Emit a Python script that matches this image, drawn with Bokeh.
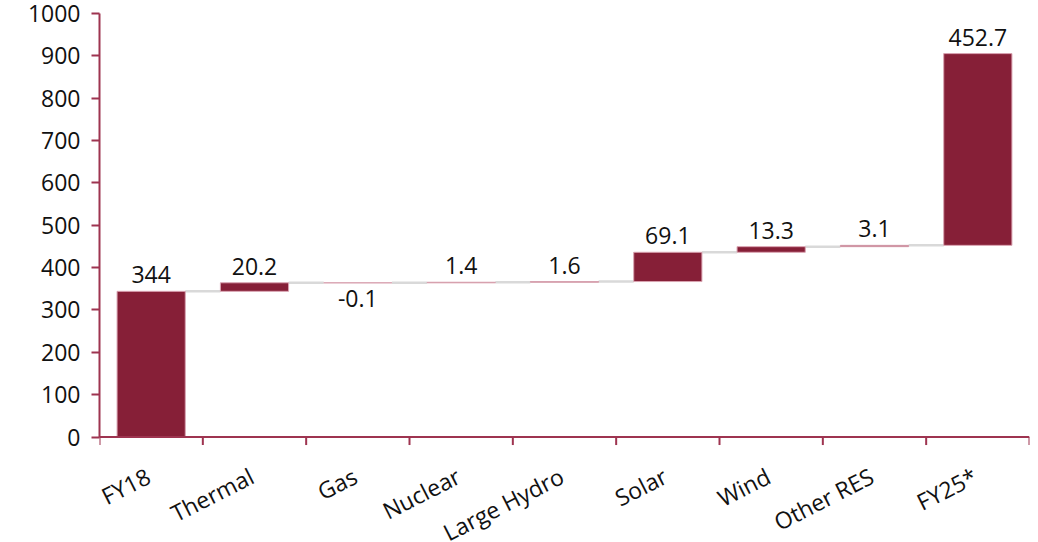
import math
from bokeh.plotting import figure
from bokeh.models import ColumnDataSource, FixedTicker, LabelSet, Range1d
from bokeh.core.properties import value
from bokeh.embed import file_html
from bokeh.resources import INLINE

# Capacity changes FY18 -> FY25* (waterfall)
categories = ["FY18", "Thermal", "Gas", "Nuclear", "Large Hydro",
              "Solar", "Wind", "Other RES", "FY25*"]
changes = [344, 20.2, -0.1, 1.4, 1.6, 69.1, 13.3, 3.1, 452.7]
y_ticks = [0, 100, 200, 300, 400, 500, 600, 700, 800, 900, 1000]

BAR = "#861F37"
AXIS = "#9E3450"
TEXT = "#111111"
FONT = "Open Sans"
FS = "23px"

# every step (including the closing total) sits on the running total
xs, bottoms, tops = [], [], []
running = 0.0
for i, v in enumerate(changes):
    xs.append(i)
    bottoms.append(running)
    running = running + v
    tops.append(running)

bar_w = 0.66
src = ColumnDataSource(dict(x=xs, bottom=bottoms, top=tops))

pos = [i for i, v in enumerate(changes) if v >= 0]
neg = [i for i, v in enumerate(changes) if v < 0]
src_pos = ColumnDataSource(dict(x=[xs[i] for i in pos],
                                y=[tops[i] for i in pos],
                                label=[f"{changes[i]:g}" for i in pos]))
src_neg = ColumnDataSource(dict(x=[xs[i] for i in neg],
                                y=[min(bottoms[i], tops[i]) for i in neg],
                                label=[f"{changes[i]:g}" for i in neg]))
src_cat = ColumnDataSource(dict(x=xs, y=[0] * len(xs), label=categories))

# category boundaries on the horizontal axis
edges = [x - 0.5 for x in xs] + [xs[-1] + 0.5]

# connectors between neighbouring bars at the running-total level
conn = ColumnDataSource(dict(
    x0=[xs[i] + bar_w / 2 for i in range(len(xs) - 1)],
    x1=[xs[i + 1] - bar_w / 2 for i in range(len(xs) - 1)],
    y=[tops[i] for i in range(len(xs) - 1)],
))

# the frame runs down to the bottom of the canvas so the slanted
# category names below the zero line stay inside it
p = figure(width=1038, height=542, output_backend="svg", toolbar_location=None,
           x_axis_location=None,
           x_range=Range1d(edges[0], edges[-1]),
           y_range=Range1d(-249, 1000),
           min_border_left=99, min_border_right=9,
           min_border_top=13, min_border_bottom=0)
p.outline_line_color = None
p.xgrid.visible = False
p.ygrid.visible = False
p.background_fill_color = "white"
p.border_fill_color = "white"

p.segment(x0="x0", y0="y", x1="x1", y1="y", source=conn,
          line_color="#D9D9D9", line_width=2.5)
p.vbar(x="x", bottom="bottom", top="top", width=bar_w, source=src,
       fill_color=BAR, line_color="#D9A3B1", line_width=1)

# horizontal axis: line at zero with boundary ticks hanging below it
p.segment(x0=[edges[0]], y0=[0], x1=[edges[-1]], y1=[0],
          line_color=AXIS, line_width=2)
p.ray(x=edges, y=[0] * len(edges), length=8, length_units="screen",
      angle=-math.pi / 2, line_color=AXIS, line_width=2)

p.text(x="x", y="y", text="label", source=src_cat,
       x_offset=-10, y_offset=23, angle=0.47,
       text_align="right", text_baseline="top",
       text_font=value(FONT), text_font_size=FS, text_color=TEXT)

lab_kw = dict(text_font=value(FONT), text_font_size=FS, text_color=TEXT)
p.add_layout(LabelSet(x="x", y="y", text="label", source=src_pos,
                      y_offset=8, text_align="center", text_baseline="bottom",
                      **lab_kw))
p.add_layout(LabelSet(x="x", y="y", text="label", source=src_neg,
                      y_offset=-7, text_align="center", text_baseline="top",
                      **lab_kw))

ya = p.yaxis[0]
ya.bounds = (0, 1000)
ya.ticker = FixedTicker(ticks=y_ticks)
ya.major_tick_out = 8
ya.major_tick_in = 0
ya.minor_tick_out = 0
ya.minor_tick_in = 0
ya.major_tick_line_color = AXIS
ya.major_tick_line_width = 2
ya.axis_line_color = AXIS
ya.axis_line_width = 2
ya.major_label_standoff = 11
ya.major_label_text_font = FONT
ya.major_label_text_font_size = FS
ya.major_label_text_color = TEXT

open("out.html", "w").write(file_html(p, INLINE))
